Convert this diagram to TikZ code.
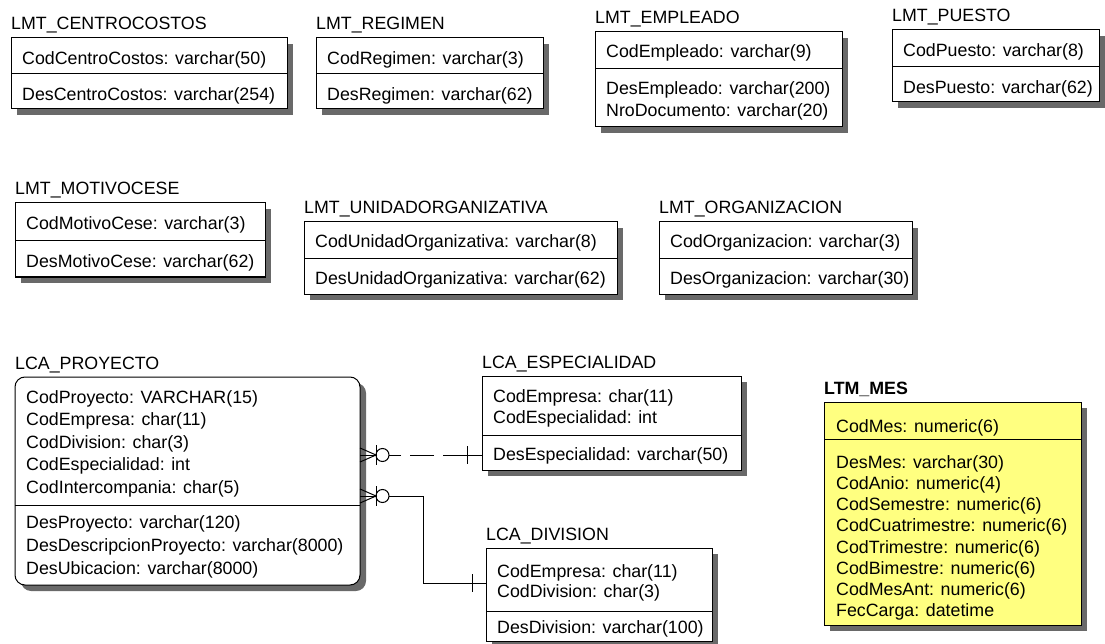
\documentclass[tikz,border=0pt]{standalone}
\usepackage{fontspec}
\setmainfont{Liberation Sans}
\usetikzlibrary{shadows,calc}
\definecolor{mesfill}{RGB}{255,255,128}
\definecolor{shdcol}{RGB}{105,105,105}
\newcommand\crowfoot[1]{%
  \draw[rel] ([yshift=7pt]#1) -- ([xshift=16pt]#1) -- ([yshift=-7pt]#1);
  \draw[rel] (#1) -- ([xshift=16pt]#1);
  \draw[rel] ([shift={(16pt,10pt)}]#1) -- ([shift={(16pt,-10pt)}]#1);
  \draw[rel] ([xshift=22.5pt]#1) circle[radius=6.5pt];}
\begin{document}
\begin{tikzpicture}[x=1pt,y=-1pt,
  tbl/.style={draw=black, line width=1pt, fill=white, inner sep=0pt, outer sep=0pt, anchor=north west,
    general shadow={shadow xshift=6pt, shadow yshift=-6pt, fill=shdcol}},
  ttl/.style={inner sep=0pt, anchor=base west, font=\fontsize{17.8}{21}\selectfont},
  row/.style={inner sep=0pt, anchor=base west, font=\fontsize{17.8}{21}\selectfont},
  divl/.style={line width=1pt},
  rel/.style={line width=1pt, black},
]
\useasboundingbox (0,0) rectangle (1105,644);
\clip (0,0) rectangle (1105,644);

% LMT_CENTROCOSTOS
\node[ttl] (cct) at (11,30) {LMT\_CENTROCOSTOS};
\node[tbl, minimum width=276pt, minimum height=71pt] (cc) at (11,38) {};
\draw[divl] (cc.west |- 0,74) -- (cc.east |- 0,74);
\node[row] (cc1) at (22,65) {CodCentroCostos: varchar(50)};
\node[row] (cc2) at (22,101) {DesCentroCostos: varchar(254)};

% LMT_REGIMEN
\node[ttl] (regt) at (316,30) {LMT\_REGIMEN};
\node[tbl, minimum width=227pt, minimum height=71pt] (reg) at (316,38) {};
\draw[divl] (reg.west |- 0,74) -- (reg.east |- 0,74);
\node[row] (reg1) at (327,65) {CodRegimen: varchar(3)};
\node[row] (reg2) at (327,101) {DesRegimen: varchar(62)};

% LMT_EMPLEADO
\node[ttl] (empt) at (595,24) {LMT\_EMPLEADO};
\node[tbl, minimum width=247pt, minimum height=95pt] (emp) at (595,32) {};
\draw[divl] (emp.west |- 0,69) -- (emp.east |- 0,69);
\node[row] (emp1) at (606,58) {CodEmpleado: varchar(9)};
\node[row] (emp2) at (606,95) {DesEmpleado: varchar(200)};
\node[row] (emp3) at (606,117) {NroDocumento: varchar(20)};

% LMT_PUESTO
\node[ttl] (puet) at (892,22) {LMT\_PUESTO};
\node[tbl, minimum width=207pt, minimum height=72pt] (pue) at (892,30) {};
\draw[divl] (pue.west |- 0,67) -- (pue.east |- 0,67);
\node[row] (pue1) at (903,57) {CodPuesto: varchar(8)};
\node[row] (pue2) at (903,94) {DesPuesto: varchar(62)};

% LMT_MOTIVOCESE
\node[ttl] (mott) at (15,195) {LMT\_MOTIVOCESE};
\node[tbl, minimum width=250pt, minimum height=74pt] (mot) at (15,203) {};
\draw[divl] (mot.west |- 0,241) -- (mot.east |- 0,241);
\node[row] (mot1) at (26,230) {CodMotivoCese: varchar(3)};
\node[row] (mot2) at (26,268) {DesMotivoCese: varchar(62)};

% LMT_UNIDADORGANIZATIVA
\node[ttl] (unit) at (304,214) {LMT\_UNIDADORGANIZATIVA};
\node[tbl, minimum width=313pt, minimum height=72pt] (uni) at (304,222) {};
\draw[divl] (uni.west |- 0,259) -- (uni.east |- 0,259);
\node[row] (uni1) at (315,248) {CodUnidadOrganizativa: varchar(8)};
\node[row] (uni2) at (315,284) {DesUnidadOrganizativa: varchar(62)};

% LMT_ORGANIZACION
\node[ttl] (orgt) at (659,214) {LMT\_ORGANIZACION};
\node[tbl, minimum width=253pt, minimum height=72pt] (org) at (659,222) {};
\draw[divl] (org.west |- 0,259) -- (org.east |- 0,259);
\node[row] (org1) at (670,248) {CodOrganizacion: varchar(3)};
\node[row] (org2) at (670,284) {DesOrganizacion: varchar(30)};

% LCA_PROYECTO
\node[ttl] (proyt) at (15,369) {LCA\_PROYECTO};
\node[tbl, rounded corners=10pt, minimum width=345pt, minimum height=208pt] (proy) at (15,377) {};
\draw[divl] (proy.west |- 0,505) -- (proy.east |- 0,505);
\node[row] (p1) at (26,403) {CodProyecto: VARCHAR(15)};
\node[row] (p2) at (26,425.5) {CodEmpresa: char(11)};
\node[row] (p3) at (26,448) {CodDivision: char(3)};
\node[row] (p4) at (26,470.5) {CodEspecialidad: int};
\node[row] (p5) at (26,493) {CodIntercompania: char(5)};
\node[row] (p6) at (26,528) {DesProyecto: varchar(120)};
\node[row] (p7) at (26,551) {DesDescripcionProyecto: varchar(8000)};
\node[row] (p8) at (26,574) {DesUbicacion: varchar(8000)};

% LCA_ESPECIALIDAD
\node[ttl] (espt) at (482,368) {LCA\_ESPECIALIDAD};
\node[tbl, minimum width=259pt, minimum height=94pt] (esp) at (482,376) {};
\draw[divl] (esp.west |- 0,435) -- (esp.east |- 0,435);
\node[row] (e1) at (493,402) {CodEmpresa: char(11)};
\node[row] (e2) at (493,423) {CodEspecialidad: int};
\node[row] (e3) at (493,460) {DesEspecialidad: varchar(50)};

% LCA_DIVISION
\node[ttl] (divt) at (486,540) {LCA\_DIVISION};
\node[tbl, minimum width=226pt, minimum height=93pt] (dv) at (486,548) {};
\draw[divl] (dv.west |- 0,611) -- (dv.east |- 0,611);
\node[row] (d1) at (497,577) {CodEmpresa: char(11)};
\node[row] (d2) at (497,597) {CodDivision: char(3)};
\node[row] (d3) at (497,633) {DesDivision: varchar(100)};

% LTM_MES
\node[ttl, font=\fontsize{17.8}{21}\selectfont\bfseries] (mest) at (824,394) {LTM\_MES};
\node[tbl, fill=mesfill, minimum width=257pt, minimum height=223pt] (mes) at (824,402) {};
\draw[divl] (mes.west |- 0,439) -- (mes.east |- 0,439);
\node[row] (m1) at (836,432) {CodMes: numeric(6)};
\node[row] (m2) at (836,468) {DesMes: varchar(30)};
\node[row] (m3) at (836,489) {CodAnio: numeric(4)};
\node[row] (m4) at (836,510.5) {CodSemestre: numeric(6)};
\node[row] (m5) at (836,531.5) {CodCuatrimestre: numeric(6)};
\node[row] (m6) at (836,553) {CodTrimestre: numeric(6)};
\node[row] (m7) at (836,574) {CodBimestre: numeric(6)};
\node[row] (m8) at (836,595) {CodMesAnt: numeric(6)};
\node[row] (m9) at (836,616) {FecCarga: datetime};

% Relationships
\coordinate (r1) at ([yshift=-78pt]proy.north east);
\coordinate (r2) at ([yshift=-119pt]proy.north east);
\crowfoot{r1}
\crowfoot{r2}
\coordinate (q1) at (r1 -| esp.west);
\coordinate (b1) at ([xshift=-15pt]q1);
\draw[rel] (q1) -- (b1);
\draw[rel, dash pattern=on 24pt off 9pt] (b1) -- ([xshift=29pt]r1);
\draw[rel] ([yshift=9pt]b1) -- ([yshift=-9pt]b1);
\coordinate (q2) at ([yshift=-35pt]dv.north west);
\draw[rel] ([xshift=29pt]r2) -- ([xshift=63pt]r2) |- (q2);
\draw[rel] ([shift={(-14pt,9pt)}]q2) -- ([shift={(-14pt,-9pt)}]q2);
\end{tikzpicture}
\end{document}
